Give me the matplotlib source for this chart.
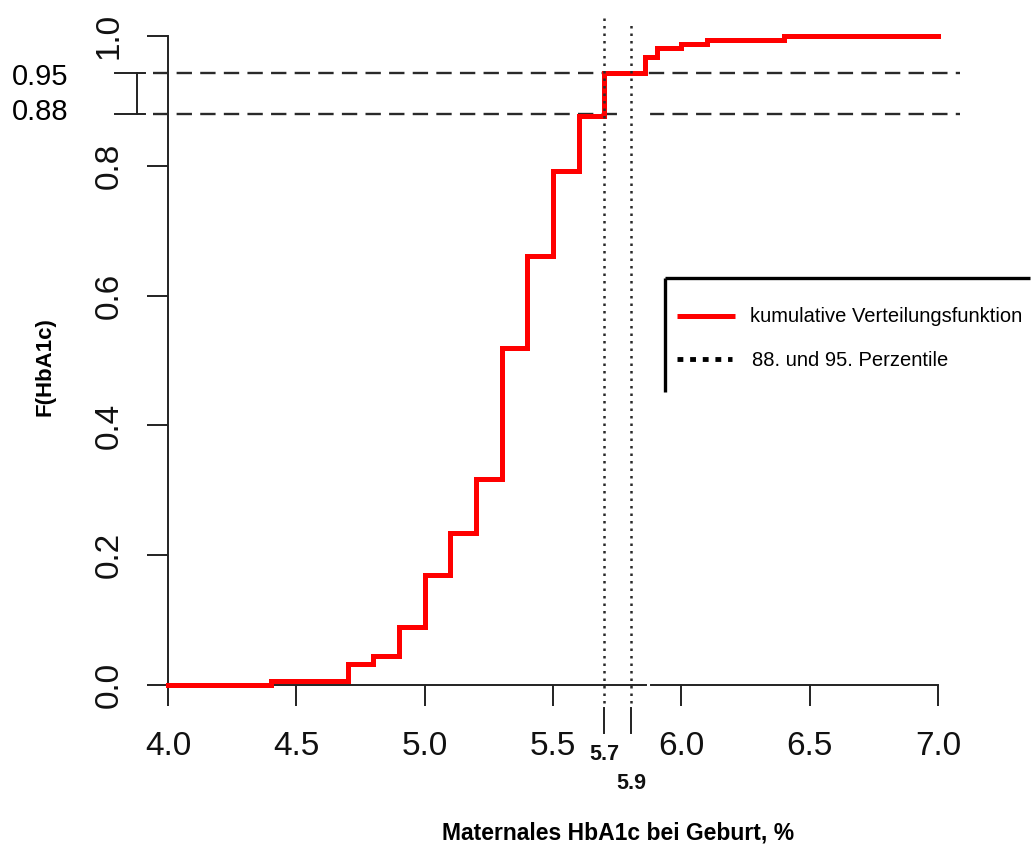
import matplotlib
matplotlib.use("Agg")
import matplotlib.pyplot as plt
from matplotlib.lines import Line2D

plt.rcParams['font.family'] = ['Liberation Sans', 'DejaVu Sans']

# Daten: Sprungstellen der empirischen Verteilungsfunktion
hba1c = [4.0, 4.4, 4.7, 4.8, 4.9, 5.0, 5.1, 5.2, 5.3, 5.4, 5.5, 5.6, 5.7,
         5.86, 5.905, 6.0, 6.1, 6.4, 7.0]
cdf = [0.0, 0.006, 0.032, 0.045, 0.09, 0.17, 0.234, 0.318, 0.519, 0.661,
       0.792, 0.877, 0.943, 0.968, 0.981, 0.988, 0.994, 1.0, 1.0]

perz_x = [5.70, 5.805]
perz_x_labels = ['5.7', '5.9']
perz_y = [0.943, 0.88]
perz_y_labels = ['0.95', '0.88']

x_ticks = [4.0, 4.5, 5.0, 5.5, 6.0, 6.5, 7.0]
y_ticks = [0.0, 0.2, 0.4, 0.6, 0.8, 1.0]

W, H = 1035, 848
fig = plt.figure(figsize=(W / 100, H / 100), dpi=100)
ax = fig.add_axes([168 / W, (H - 685) / H, (938 - 168) / W, (685 - 36) / H])
ax.set_xlim(4, 7)
ax.set_ylim(0, 1)

axis_col = '#222222'

# Verteilungsfunktion
ax.step(hba1c, cdf, where='post', color='#ff0000', lw=3.6, clip_on=False,
        zorder=5, solid_joinstyle='miter')

# horizontale Linien (gestrichelt)
for lvl in perz_y:
    ax.plot([3.94, 7.085], [lvl, lvl], color='#2a2a2a', lw=1.7,
            dashes=(6.5, 3.5), clip_on=False, zorder=3)
# Klammer links
ax.plot([3.794, 3.91], [perz_y[0], perz_y[0]], color=axis_col, lw=1.4, clip_on=False)
ax.plot([3.794, 3.91], [perz_y[1], perz_y[1]], color=axis_col, lw=1.4, clip_on=False)
ax.plot([3.88, 3.88], perz_y, color=axis_col, lw=1.4, clip_on=False)
# Luecke in der 0.88-Linie
ax.plot([5.761, 5.872], [perz_y[1], perz_y[1]], color='white', lw=3,
        clip_on=False, zorder=4)

# vertikale Perzentil-Linien (gepunktet)
tops = [1.029, 1.02]
for xv, top, lab, ly in zip(perz_x, tops, perz_x_labels, [-0.107, -0.152]):
    ax.plot([xv, xv], [-0.027, top], color='#2a2a2a', lw=1.8,
            dashes=(1, 2), clip_on=False, zorder=6)
    ax.plot([xv, xv], [-0.036, -0.074], color=axis_col, lw=1.4, clip_on=False)
    ax.text(xv, ly, lab, ha='center', va='center', fontsize=15.5,
            fontweight='bold', color='#111111', clip_on=False)

# Achsen
for s in ['top', 'right', 'bottom']:
    ax.spines[s].set_visible(False)
ax.spines['left'].set_color(axis_col)
ax.spines['left'].set_linewidth(1.4)
ax.plot([4.0, 5.862], [0, 0], color=axis_col, lw=1.4, clip_on=False, zorder=4)
ax.plot([5.882, 7.0], [0, 0], color=axis_col, lw=1.4, clip_on=False, zorder=4)

ax.set_xticks(x_ticks)
ax.set_xticklabels([f'{v:.1f}' for v in x_ticks])
ax.set_yticks(y_ticks)
ax.set_yticklabels([f'{v:.1f}' for v in y_ticks], rotation=90, va='center')
ax.tick_params(axis='both', direction='out', length=15, width=1.4,
               color=axis_col, labelsize=24, labelcolor='#111111')
ax.tick_params(axis='x', pad=18)
ax.tick_params(axis='y', pad=16)

# Beschriftungen
fig.text(12 / W, 1 - 77 / H, perz_y_labels[0], ha='left', va='center', fontsize=21)
fig.text(12 / W, 1 - 112 / H, perz_y_labels[1], ha='left', va='center', fontsize=21)
fig.text(618 / W, 1 - 833 / H, 'Maternales HbA1c bei Geburt, %', ha='center',
         va='center', fontsize=16.5, fontweight='bold')
fig.text(45 / W, 1 - 367 / H, 'F(HbA1c)', ha='center', va='center',
         rotation=90, fontsize=16, fontweight='bold')

# Legende (angeschnitten)
fig.add_artist(Line2D([665 / W, 1030 / W], [1 - 278 / H, 1 - 278 / H],
                      color='black', lw=2.4, solid_capstyle='butt'))
fig.add_artist(Line2D([665 / W, 665 / W], [1 - 278 / H, 1 - 392 / H],
                      color='black', lw=2.4, solid_capstyle='butt'))
fig.add_artist(Line2D([677 / W, 735 / W], [1 - 316 / H, 1 - 316 / H],
                      color='#ff0000', lw=3.6, solid_capstyle='butt'))
fig.add_artist(Line2D([677 / W, 732 / W], [1 - 359 / H, 1 - 359 / H],
                      color='black', lw=3.5, dashes=(1.2, 1.4)))
fig.text(750 / W, 1 - 317 / H, 'kumulative Verteilungsfunktion', ha='left',
         va='center', fontsize=14.5)
fig.text(752 / W, 1 - 360 / H, '88. und 95. Perzentile', ha='left',
         va='center', fontsize=14.5)

fig.savefig('out.png', dpi=100)
